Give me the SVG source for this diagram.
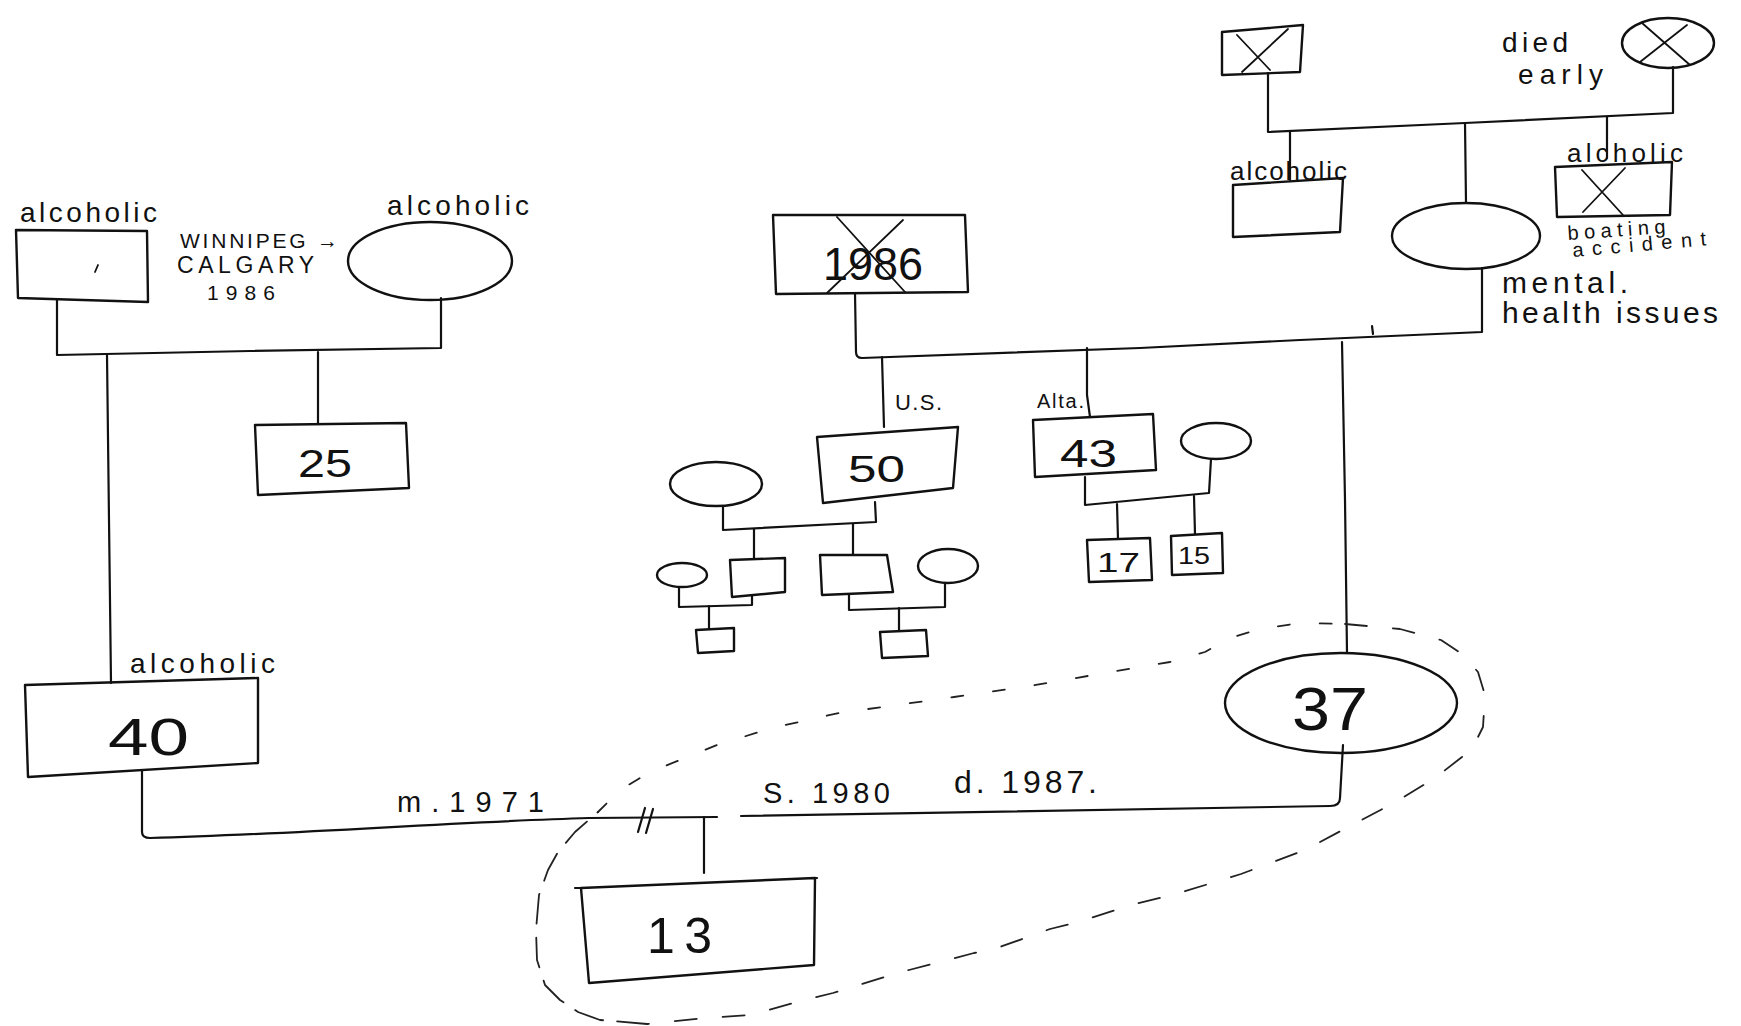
<svg xmlns="http://www.w3.org/2000/svg" width="1741" height="1026" viewBox="0 0 1741 1026">
<style>
.ln{fill:none;stroke:#111;stroke-width:2.2;stroke-linecap:round;stroke-linejoin:round}
.sh{fill:none;stroke:#111;stroke-width:2.4;stroke-linejoin:round}
.x{fill:none;stroke:#111;stroke-width:1.8;stroke-linecap:round}
.t{font-family:"Liberation Sans","DejaVu Sans",sans-serif;fill:#111}
.dash{fill:none;stroke:#222;stroke-width:1.8;stroke-linecap:round;stroke-linejoin:round}
</style>
<rect width="1741" height="1026" fill="#fff"/>

<!-- connectors: couple lines, child drops, marriage line -->
<g id="connectors">
  <!-- paternal grandparents -->
  <path class="ln" d="M57,300 L57,355 L250,351 L441,348 L441,298"/>
  <path class="ln" d="M318,352 L318,423"/>
  <path class="ln" d="M107,355 L109,520 L111,683"/>
  <!-- maternal grandparents -->
  <path class="ln" d="M855,293 L856,352 Q856,358 862,358 L1140,348 L1300,340 L1482,332 L1482,268"/>
  <path class="ln" d="M1373,334 L1372,326"/>
  <path class="ln" d="M882,357 L884,427"/>
  <path class="ln" d="M1087,348 L1087,395 L1090,417"/>
  <path class="ln" d="M1342,342 L1345,500 L1347,653"/>
  <!-- great-grandparents -->
  <path class="ln" d="M1268,73 L1268,132 L1465,123 L1673,113 L1673,67"/>
  <path class="ln" d="M1290,131 L1290,180"/>
  <path class="ln" d="M1465,123 L1466,203"/>
  <path class="ln" d="M1607,117 L1607,158"/>
  <!-- uncle (50) family -->
  <path class="ln" d="M723,506 L723,530 L876,522 L875,502"/>
  <path class="ln" d="M754,529 L754,558"/>
  <path class="ln" d="M853,524 L853,555"/>
  <path class="ln" d="M679,587 L679,607 L752,605 L752,596"/>
  <path class="ln" d="M709,606 L709,629"/>
  <path class="ln" d="M849,595 L849,610 L945,607 L945,583"/>
  <path class="ln" d="M899,608 L899,631"/>
  <!-- uncle (43) family -->
  <path class="ln" d="M1085,477 L1085,505 L1209,493 L1211,459"/>
  <path class="ln" d="M1117,504 L1118,539"/>
  <path class="ln" d="M1194,496 L1195,534"/>
  <!-- parents: marriage 1971, separation, child -->
  <path class="ln" d="M142,770 L142,832 Q142,838 150,838 C300,834 450,822 589,818 L717,817"/>
  <path class="ln" d="M741,816 L1330,806 Q1340,806 1340,798 L1343,745"/>
  <path class="ln" d="M638,832 L645,808 M646,833 L653,809"/>
  <path class="ln" d="M704,817 L704,873"/>
  <!-- dashed boundary round mother and son -->
  <path class="dash" stroke-dasharray="12 30" d="M598,812 L620,790 L650,772 L717,745 L772,728 L839,713 L890,706 L954,697 L1030,686 L1105,673 L1170,662 L1205,652 L1230,638 L1260,629 L1300,623 L1345,624"/>
  <path class="dash" stroke-dasharray="22 26" d="M1345,624 L1400,629 L1441,640 L1462,654 L1478,672 L1485,695 L1483,727 L1474,745 L1462,757 L1435,778 L1394,803 L1350,826 L1305,850 L1241,874 L1176,894 L1131,905 L1078,922 L1050,929 L997,948 L974,953 L909,970 L888,976 L833,993 L797,1002 L750,1015 L706,1018 L647,1024"/>
  <path class="dash" stroke-dasharray="30 14" d="M647,1024 L600,1020 L578,1012 L560,1000 L545,985 L537,960 L536,930 L539,895 L548,870 L558,852 L575,832 L598,812"/>
</g>

<!-- paternal grandfather -->
<g id="pat-grandfather">
  <polygon class="sh" points="16,230 147,231 148,302 18,298"/>
  <path class="x" d="M95,272 L98,265"/>
  <text class="t" x="20" y="222" font-size="28" textLength="137" lengthAdjust="spacing">alcoholic</text>
</g>
<g id="move-note">
  <text class="t" x="180" y="248" font-size="21" textLength="158" lengthAdjust="spacing">WINNIPEG →</text>
  <text class="t" x="177" y="273" font-size="23" textLength="137" lengthAdjust="spacing">CALGARY</text>
  <text class="t" x="207" y="300" font-size="21" textLength="68" lengthAdjust="spacing">1986</text>
</g>
<!-- paternal grandmother -->
<g id="pat-grandmother">
  <ellipse class="sh" cx="430" cy="261" rx="82" ry="39"/>
  <text class="t" x="387" y="215" font-size="28" textLength="142" lengthAdjust="spacing">alcoholic</text>
</g>
<g id="pat-uncle-25">
  <polygon class="sh" points="255,425 406,423 409,488 258,495"/>
  <text class="t" x="298" y="477" font-size="38" textLength="54" lengthAdjust="spacingAndGlyphs">25</text>
</g>
<!-- father -->
<g id="father-40">
  <polygon class="sh" points="25,685 258,678 258,763 28,777"/>
  <text class="t" x="130" y="673" font-size="28" textLength="145" lengthAdjust="spacing">alcoholic</text>
  <text class="t" x="108" y="755" font-size="52" textLength="81" lengthAdjust="spacingAndGlyphs">40</text>
</g>
<g id="marriage-notes">
  <text class="t" x="397" y="812" font-size="29" textLength="147" lengthAdjust="spacing">m.1971</text>
  <text class="t" x="763" y="803" font-size="29" textLength="127" lengthAdjust="spacing">S. 1980</text>
  <text class="t" x="954" y="793" font-size="32" textLength="143" lengthAdjust="spacing">d. 1987.</text>
</g>
<!-- son -->
<g id="son-13">
  <polygon class="sh" points="581,888 815,878 814,965 589,983"/>
  <path class="ln" d="M575,888 L581,888 M815,878 L817,878"/>
  <text class="t" x="647" y="953" font-size="50" textLength="65" lengthAdjust="spacing">13</text>
</g>
<!-- mother -->
<g id="mother-37">
  <ellipse class="sh" cx="1341" cy="703" rx="116" ry="50"/>
  <text class="t" x="1292" y="730" font-size="62" textLength="76" lengthAdjust="spacingAndGlyphs">37</text>
</g>

<!-- maternal grandfather, died 1986 -->
<g id="mat-grandfather">
  <polygon class="sh" points="773,215 965,215 968,292 776,294"/>
  <text class="t" x="823" y="280" font-size="46" textLength="100" lengthAdjust="spacingAndGlyphs">1986</text>
  <path class="x" d="M837,217 L905,292 M903,220 L827,293"/>
</g>
<!-- maternal grandmother -->
<g id="mat-grandmother">
  <ellipse class="sh" cx="1466" cy="236" rx="74" ry="33"/>
  <text class="t" x="1502" y="293" font-size="30" textLength="126" lengthAdjust="spacing">mental.</text>
  <text class="t" x="1502" y="323" font-size="30" textLength="216" lengthAdjust="spacing">health issues</text>
</g>

<!-- uncle 50 and his family -->
<g id="mat-uncle-50">
  <polygon class="sh" points="817,437 958,427 953,488 823,503"/>
  <text class="t" x="895" y="410" font-size="22" textLength="47" lengthAdjust="spacing">U.S.</text>
  <text class="t" x="848" y="482" font-size="36" textLength="57" lengthAdjust="spacingAndGlyphs">50</text>
</g>
<g id="uncle-50-wife"><ellipse class="sh" cx="716" cy="484" rx="46" ry="22"/></g>
<g id="cousin-a"><polygon class="sh" points="730,560 785,558 785,592 732,597"/></g>
<g id="cousin-a-wife"><ellipse class="sh" cx="682" cy="575" rx="25" ry="12"/></g>
<g id="cousin-a-son"><polygon class="sh" points="696,630 734,628 734,651 698,653"/></g>
<g id="cousin-b"><polygon class="sh" points="820,555 887,555 893,592 822,595"/></g>
<g id="cousin-b-wife"><ellipse class="sh" cx="948" cy="566" rx="30" ry="17"/></g>
<g id="cousin-b-son"><polygon class="sh" points="880,632 926,630 928,656 882,658"/></g>

<!-- uncle 43 and his family -->
<g id="mat-uncle-43">
  <polygon class="sh" points="1033,420 1153,414 1156,470 1035,477"/>
  <text class="t" x="1037" y="408" font-size="20" textLength="47" lengthAdjust="spacing">Alta.</text>
  <text class="t" x="1060" y="467" font-size="38" textLength="57" lengthAdjust="spacingAndGlyphs">43</text>
</g>
<g id="uncle-43-wife"><ellipse class="sh" cx="1216" cy="441" rx="35" ry="18"/></g>
<g id="cousin-17">
  <polygon class="sh" points="1087,540 1150,538 1152,580 1089,582"/>
  <text class="t" x="1097" y="572" font-size="28" textLength="43" lengthAdjust="spacingAndGlyphs">17</text>
</g>
<g id="cousin-15">
  <polygon class="sh" points="1171,536 1222,533 1223,573 1172,575"/>
  <text class="t" x="1178" y="564" font-size="24" textLength="32" lengthAdjust="spacingAndGlyphs">15</text>
</g>

<!-- great-grandparents -->
<g id="great-grandfather">
  <polygon class="sh" points="1222,32 1303,25 1300,72 1222,75"/>
  <path class="x" d="M1237,35 L1270,70 M1288,29 L1242,72"/>
</g>
<g id="great-grandmother">
  <ellipse class="sh" cx="1668" cy="43" rx="46" ry="25"/>
  <path class="x" d="M1642,23 L1690,65 M1687,25 L1640,62"/>
  <text class="t" x="1502" y="52" font-size="28" textLength="66" lengthAdjust="spacing">died</text>
  <text class="t" x="1518" y="84" font-size="28" textLength="85" lengthAdjust="spacing">early</text>
</g>
<g id="great-uncle-a">
  <polygon class="sh" points="1233,185 1343,178 1340,232 1233,237"/>
  <text class="t" x="1230" y="180" font-size="26" textLength="117" lengthAdjust="spacing">alcoholic</text>
</g>
<g id="great-uncle-b">
  <polygon class="sh" points="1555,167 1672,162 1670,215 1557,217"/>
  <path class="x" d="M1582,170 L1623,215 M1625,168 L1583,212"/>
  <text class="t" x="1567" y="162" font-size="26" textLength="116" lengthAdjust="spacing">alcholic</text>
  <text class="t" x="1568" y="240" font-size="20" textLength="98" lengthAdjust="spacing" transform="rotate(-4 1568 240)">boating</text>
  <text class="t" x="1573" y="257" font-size="20" textLength="134" lengthAdjust="spacing" transform="rotate(-5 1573 257)">accident</text>
</g>
</svg>
